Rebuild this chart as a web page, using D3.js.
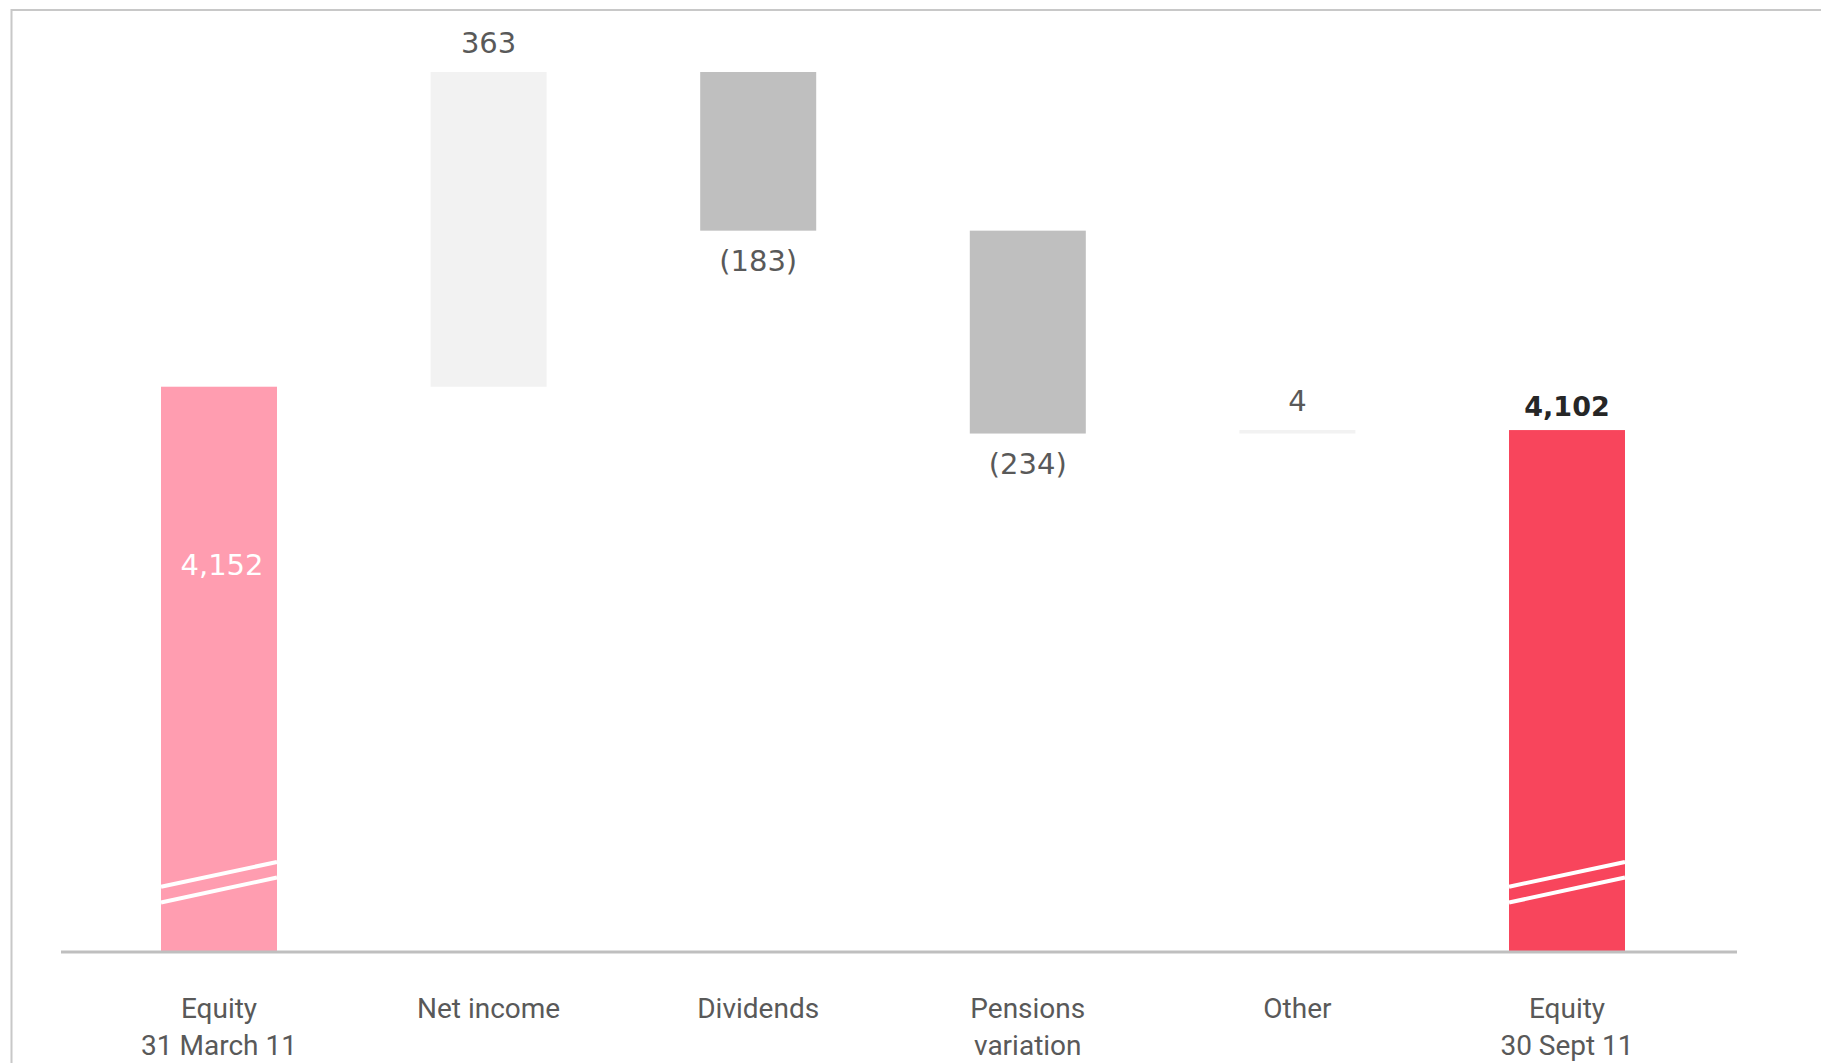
<!DOCTYPE html>
<html>
<head>
<meta charset="utf-8">
<script src="https://cdn.jsdelivr.net/npm/d3@7"></script>
<style>
  html, body { margin: 0; padding: 0; background: #ffffff; }
  svg { display: block; }
</style>
</head>
<body>
<svg id="chart" width="1821" height="1063"></svg>
<script>
// Equity bridge, 31 March 11 -> 30 Sept 11
const categoryLines = [
  ["Equity", "31 March 11"],
  ["Net income"],
  ["Dividends"],
  ["Pensions", "variation"],
  ["Other"],
  ["Equity", "30 Sept 11"]
];
const values = [4152, 363, -183, -234, 4, 4102];
const kinds = ["start", "delta", "delta", "delta", "delta", "end"];

const svg = d3.select("#chart");

// frame around the chart area
svg.append("rect")
  .attr("x", 11.5).attr("y", 10)
  .attr("width", 1900).attr("height", 1200)
  .attr("fill", "none")
  .attr("stroke", "#c8c8c8")
  .attr("stroke-width", 2);

// truncated value axis: the columns start from a cut baseline
const yBase = 3500, yTop = 4515;
const y = d3.scaleLinear().domain([yBase, yTop]).range([952, 72]);
const x = d3.scalePoint().domain(d3.range(values.length)).range([219, 1567]);
const barW = 116;

// waterfall segments
let running = 0;
const bars = values.map((v, i) => {
  let lo, hi;
  if (kinds[i] === "delta") {
    lo = running; hi = running + v; running = hi;
  } else {
    lo = yBase; hi = v; running = v;
  }
  return { i, v, kind: kinds[i], from: Math.min(lo, hi), to: Math.max(lo, hi) };
});

const fillFor = d => {
  if (d.kind === "start") return "#ff9db0";
  if (d.kind === "end") return "#f8455c";
  return d.v >= 0 ? "#f2f2f2" : "#bfbfbf";
};

svg.append("g").selectAll("rect")
  .data(bars)
  .join("rect")
  .attr("x", d => x(d.i) - barW / 2)
  .attr("y", d => y(d.to))
  .attr("width", barW)
  .attr("height", d => y(d.from) - y(d.to))
  .attr("fill", fillFor);

// axis-break marks across the total columns
const base = y(yBase);
const breaks = bars.filter(d => d.kind !== "delta");
const brk = svg.append("g");
[[65.3, 90], [49.5, 74.5]].forEach(([l, r]) => {
  brk.selectAll(null)
    .data(breaks)
    .join("line")
    .attr("x1", d => x(d.i) - barW / 2)
    .attr("x2", d => x(d.i) + barW / 2)
    .attr("y1", base - l)
    .attr("y2", base - r)
    .attr("stroke", "#ffffff")
    .attr("stroke-width", 4);
});

// baseline
svg.append("line")
  .attr("x1", 61).attr("x2", 1737)
  .attr("y1", base).attr("y2", base)
  .attr("stroke", "#bfbfbf")
  .attr("stroke-width", 3);

// value labels
const fmt = d3.format(",");
const labelText = d => d.v < 0 ? "(" + fmt(-d.v) + ")" : fmt(d.v);
svg.append("g").selectAll("text")
  .data(bars)
  .join("text")
  .attr("x", d => x(d.i) + (d.kind === "start" ? 3 : 0))
  .attr("y", d => {
    if (d.kind === "start") return y(d.to) + 188;
    if (d.kind === "end") return y(d.to) - 14;
    return d.v >= 0 ? y(d.to) - 19 : y(d.from) + 40;
  })
  .attr("text-anchor", "middle")
  .attr("font-family", "'DejaVu Sans', sans-serif")
  .attr("font-size", d => d.kind === "end" ? 27 : 29)
  .attr("font-weight", d => d.kind === "end" ? "bold" : "normal")
  .attr("fill", d => d.kind === "start" ? "#ffffff" : (d.kind === "end" ? "#262626" : "#595959"))
  .text(labelText);

// category labels
const cat = svg.append("g")
  .attr("font-family", "Roboto, 'Liberation Sans', sans-serif")
  .attr("font-size", 28)
  .attr("fill", "#595959")
  .attr("text-anchor", "middle");
cat.selectAll("text")
  .data(categoryLines)
  .join("text")
  .attr("x", (d, i) => x(i))
  .attr("y", 1018)
  .selectAll("tspan")
  .data(d => d)
  .join("tspan")
  .attr("x", function () { return d3.select(this.parentNode).attr("x"); })
  .attr("dy", (d, j) => j === 0 ? 0 : 37)
  .text(d => d);
</script>
</body>
</html>
